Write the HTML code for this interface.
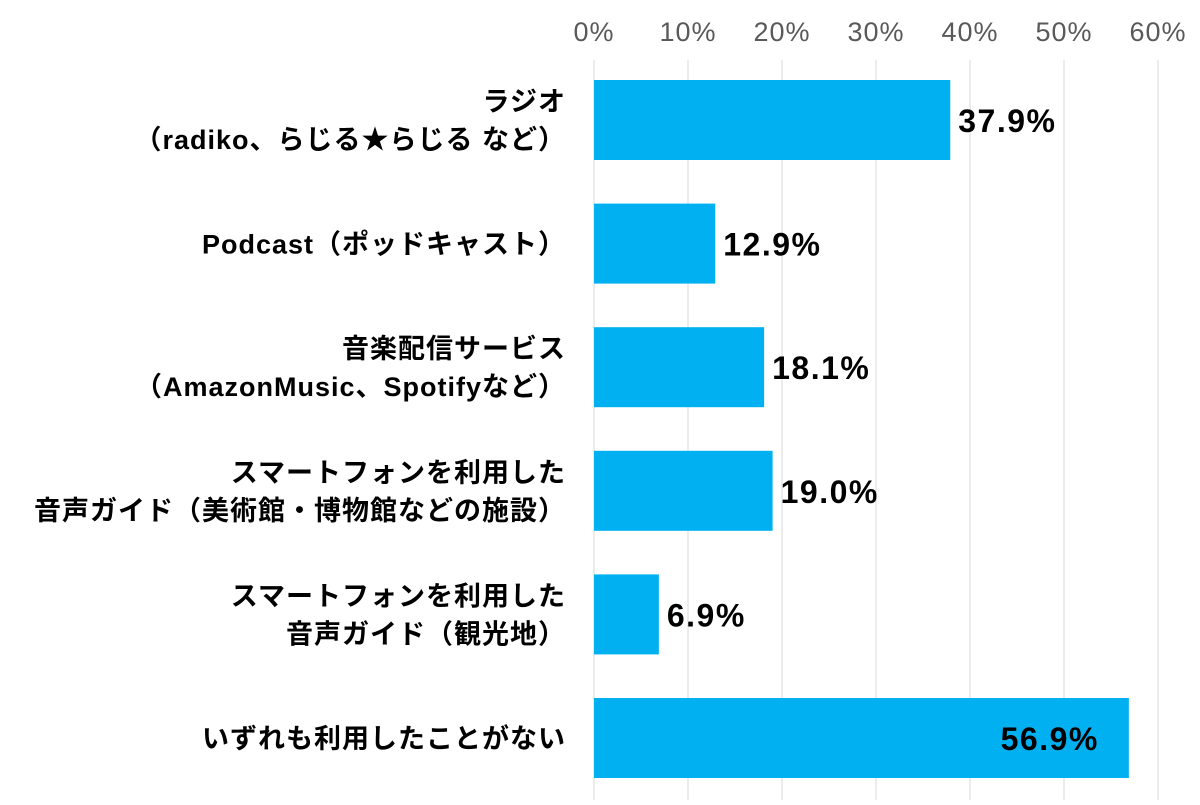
<!DOCTYPE html>
<html><head><meta charset="utf-8"><style>
body{margin:0;background:#fff;width:1200px;height:800px;overflow:hidden;font-family:"Liberation Sans","Noto Sans CJK JP",sans-serif;}
</style></head><body>
<svg id="chart" width="1200" height="800" xmlns="http://www.w3.org/2000/svg"></svg>
<script>
const categories = [
  ["ラジオ","（radiko、らじる★らじる など）"],
  ["Podcast（ポッドキャスト）"],
  ["音楽配信サービス","（AmazonMusic、Spotifyなど）"],
  ["スマートフォンを利用した","音声ガイド（美術館・博物館などの施設）"],
  ["スマートフォンを利用した","音声ガイド（観光地）"],
  ["いずれも利用したことがない"]
];
const values = [37.9, 12.9, 18.1, 19.0, 6.9, 56.9];
const ticks = [0,10,20,30,40,50,60];
const tickLabels = ["0%","10%","20%","30%","40%","50%","60%"];

const svg = document.getElementById('chart');
const NS = "http://www.w3.org/2000/svg";
const x0 = 594, pxPer = 9.4;
const xScale = v => x0 + v*pxPer;
const yTop = 80, step = 123.6, barH = 80;
const yScale = i => yTop + i*step;
function mk(tag, attrs){const e=document.createElementNS(NS,tag);for(const k in attrs)e.setAttribute(k,attrs[k]);svg.appendChild(e);return e;}

ticks.forEach((t,i)=>{
  const g = mk('line',{x1:xScale(t),x2:xScale(t),y1:60,y2:800,stroke:'#d9d9d9','stroke-width':1});
  
  
  const tx = mk('text',{x:xScale(t),y:41,'text-anchor':'middle','font-size':27,'letter-spacing':1,fill:'#595959'});
  tx.textContent = tickLabels[i];
  
  
});

values.forEach((v,i)=>{
  const y = yScale(i);
  const r = mk('rect',{x:x0,y:y,width:xScale(v)-x0,height:barH,fill:'#00b0f0'});
  
  
  const inside = xScale(v) > 1080;
  const t = mk('text',{x:inside?xScale(v)-30:xScale(v)+8,y:y+barH/2+12,'text-anchor':inside?'end':'start','font-size':32,'letter-spacing':1.5,fill:'#000','font-weight':'bold'});
  t.textContent = v.toFixed(1)+'%';
  
  
  const lines = categories[i];
  lines.forEach((ln,j)=>{
    const cy = y+barH/2 + (j-(lines.length-1)/2)*38 + 10;
    const c = mk('text',{x:566,y:cy,'text-anchor':'end','font-size':27,'letter-spacing':1,fill:'#000','font-weight':'bold'});
    c.textContent = ln;
    
    
  });
});
</script>
</body></html>
